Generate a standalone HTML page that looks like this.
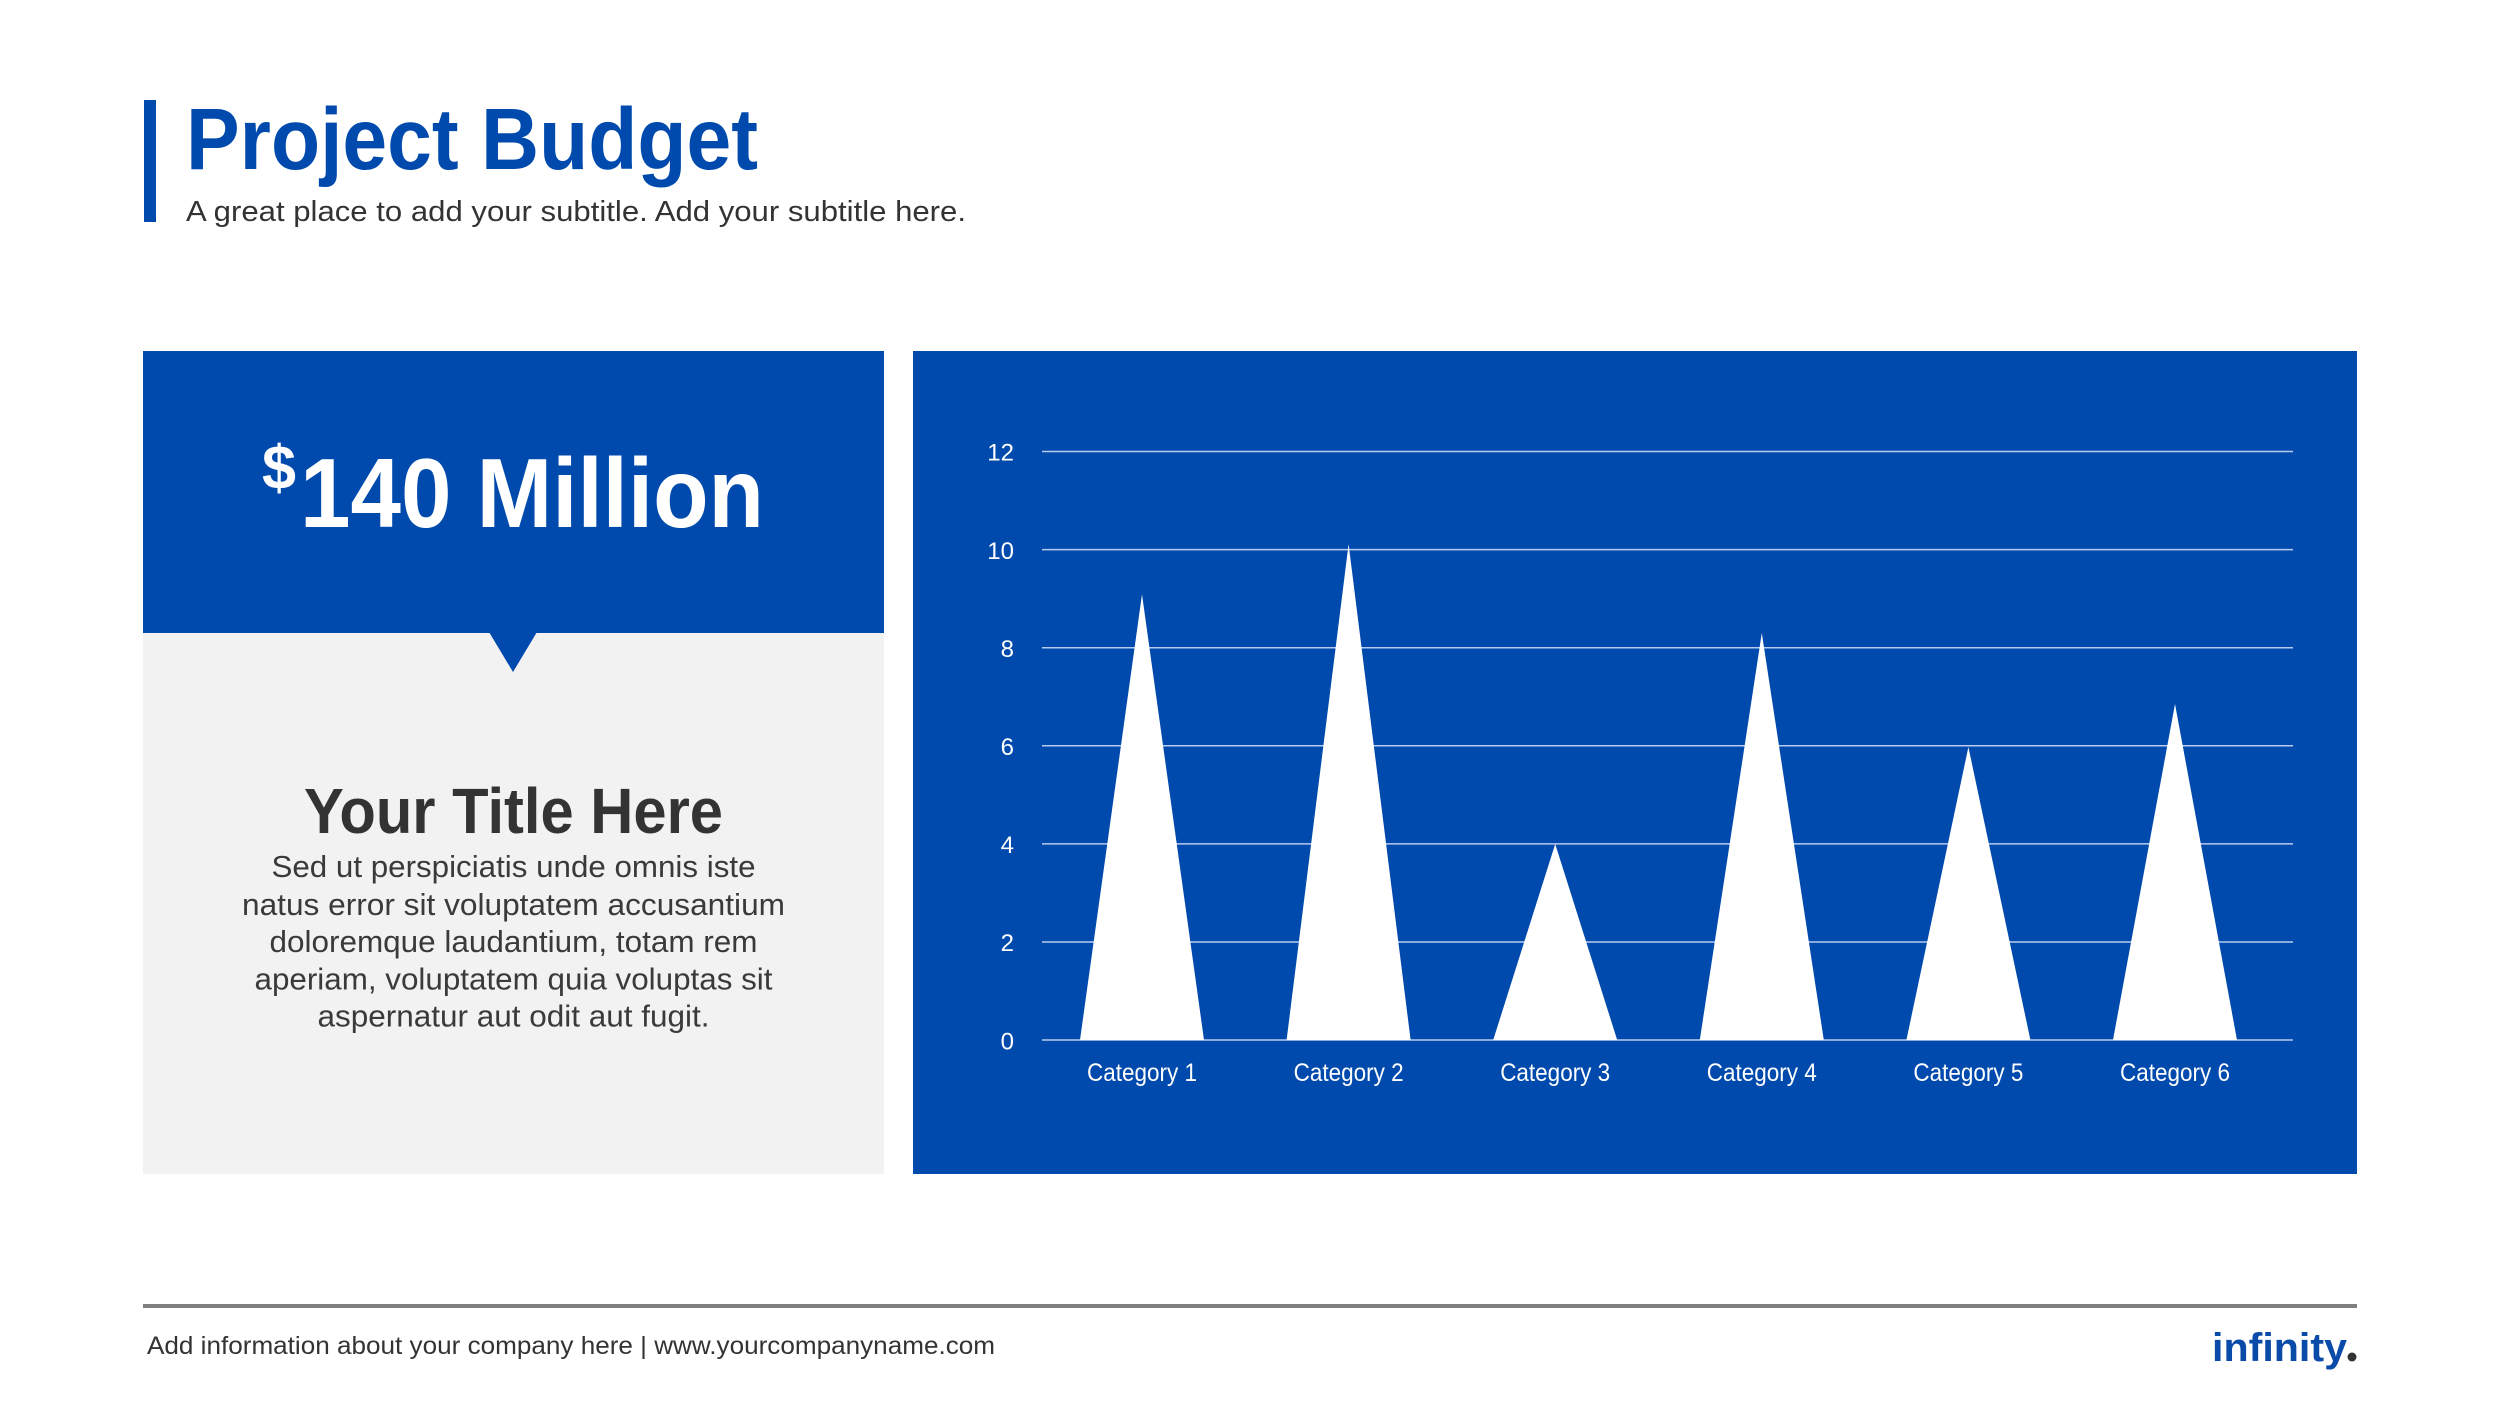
<!DOCTYPE html>
<html>
<head>
<meta charset="utf-8">
<style>
  html, body { margin:0; padding:0; background:#ffffff; }
  body { width:2500px; height:1406px; overflow:hidden; }
  svg { display:block; }
  text { font-family: "Liberation Sans", Arial, sans-serif; }
</style>
</head>
<body>
<svg width="2500" height="1406" viewBox="0 0 2500 1406" xmlns="http://www.w3.org/2000/svg">
  <rect x="0" y="0" width="2500" height="1406" fill="#ffffff"/>

  <!-- Header -->
  <rect x="144" y="100" width="12" height="122" fill="#004AAD"/>
  <text x="186" y="169" font-size="87" font-weight="bold" fill="#004AAD" textLength="572" lengthAdjust="spacingAndGlyphs">Project Budget</text>
  <text x="186" y="221" font-size="29" fill="#333333" textLength="780" lengthAdjust="spacingAndGlyphs">A great place to add your subtitle. Add your subtitle here.</text>

  <!-- Left panel -->
  <rect x="143" y="351" width="741" height="282" fill="#004AAD"/>
  <rect x="143" y="633" width="741" height="541" fill="#F2F2F2"/>
  <polygon points="489,632 537,632 513,672" fill="#004AAD"/>
  <text x="262" y="489" font-size="62" font-weight="bold" fill="#ffffff" textLength="34" lengthAdjust="spacingAndGlyphs">$</text>
  <text x="300" y="527" font-size="98" font-weight="bold" fill="#ffffff" textLength="464" lengthAdjust="spacingAndGlyphs">140 Million</text>

  <text x="513.5" y="833" font-size="64" font-weight="bold" fill="#333333" text-anchor="middle" textLength="419" lengthAdjust="spacingAndGlyphs">Your Title Here</text>
  <g font-size="31" fill="#3a3a3a" text-anchor="middle">
    <text x="513.5" y="877" textLength="484" lengthAdjust="spacingAndGlyphs">Sed ut perspiciatis unde omnis iste</text>
    <text x="513.5" y="915" textLength="543" lengthAdjust="spacingAndGlyphs">natus error sit voluptatem accusantium</text>
    <text x="513.5" y="952" textLength="488" lengthAdjust="spacingAndGlyphs">doloremque laudantium, totam rem</text>
    <text x="513.5" y="989.5" textLength="518" lengthAdjust="spacingAndGlyphs">aperiam, voluptatem quia voluptas sit</text>
    <text x="513.5" y="1026.5" textLength="392" lengthAdjust="spacingAndGlyphs">aspernatur aut odit aut fugit.</text>
  </g>

  <!-- Chart panel -->
  <rect x="913" y="351" width="1444" height="823" fill="#004AAD"/>

  <!-- Gridlines -->
  <g stroke="#B8CBEE" stroke-width="1.5">
    <line x1="1042" y1="451.5" x2="2293" y2="451.5"/>
    <line x1="1042" y1="549.6" x2="2293" y2="549.6"/>
    <line x1="1042" y1="647.7" x2="2293" y2="647.7"/>
    <line x1="1042" y1="745.8" x2="2293" y2="745.8"/>
    <line x1="1042" y1="843.9" x2="2293" y2="843.9"/>
    <line x1="1042" y1="942" x2="2293" y2="942"/>
    <line x1="1042" y1="1040" x2="2293" y2="1040"/>
  </g>

  <!-- Y labels -->
  <g font-size="24" fill="#ffffff" text-anchor="end">
    <text x="1014" y="460.7">12</text>
    <text x="1014" y="558.8">10</text>
    <text x="1014" y="656.9">8</text>
    <text x="1014" y="755">6</text>
    <text x="1014" y="853.1">4</text>
    <text x="1014" y="951.2">2</text>
    <text x="1014" y="1049.3">0</text>
  </g>

  <!-- Triangles -->
  <g fill="#ffffff">
    <polygon points="1080,1040 1204,1040 1142,594.3"/>
    <polygon points="1286.6,1040 1410.6,1040 1348.6,544"/>
    <polygon points="1493.2,1040 1617.2,1040 1555.2,844"/>
    <polygon points="1699.8,1040 1823.8,1040 1761.8,633"/>
    <polygon points="1906.4,1040 2030.4,1040 1968.4,747"/>
    <polygon points="2113,1040 2237,1040 2175,704"/>
  </g>

  <!-- Category labels -->
  <g font-size="25" fill="#ffffff" text-anchor="middle">
    <text x="1142" y="1081" textLength="110" lengthAdjust="spacingAndGlyphs">Category 1</text>
    <text x="1348.6" y="1081" textLength="110" lengthAdjust="spacingAndGlyphs">Category 2</text>
    <text x="1555.2" y="1081" textLength="110" lengthAdjust="spacingAndGlyphs">Category 3</text>
    <text x="1761.8" y="1081" textLength="110" lengthAdjust="spacingAndGlyphs">Category 4</text>
    <text x="1968.4" y="1081" textLength="110" lengthAdjust="spacingAndGlyphs">Category 5</text>
    <text x="2175" y="1081" textLength="110" lengthAdjust="spacingAndGlyphs">Category 6</text>
  </g>

  <!-- Footer -->
  <rect x="143" y="1304" width="2214" height="4" fill="#7F7F7F"/>
  <text x="147" y="1354" font-size="25" fill="#333333" textLength="848" lengthAdjust="spacingAndGlyphs">Add information about your company here | www.yourcompanyname.com</text>
  <text x="2212" y="1361" font-size="40" font-weight="bold" fill="#0A4AA8" textLength="135" lengthAdjust="spacingAndGlyphs">infinity</text>
  <circle cx="2352" cy="1357" r="4.5" fill="#333333"/>
</svg>
</body>
</html>
